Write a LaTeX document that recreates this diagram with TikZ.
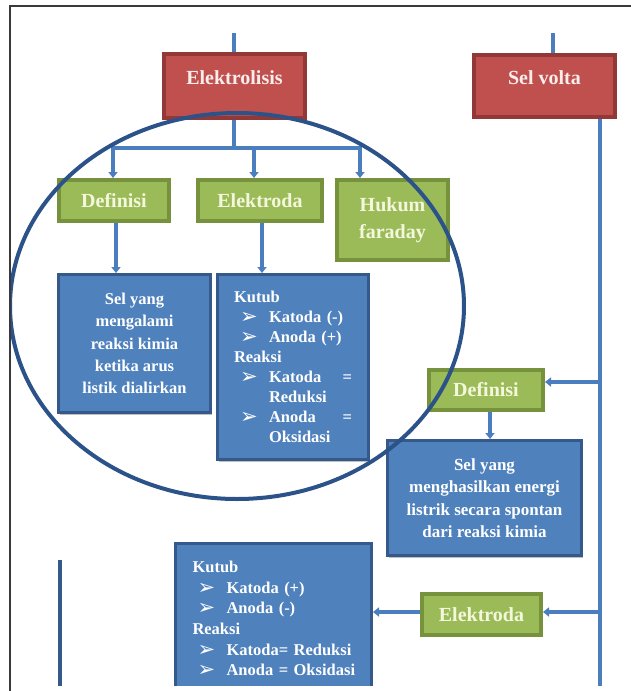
\documentclass[tikz,border=0pt]{standalone}
\usepackage{fontspec}
\setmainfont{Liberation Serif}
\newfontfamily\dejavu{DejaVu Sans}
\usetikzlibrary{arrows.meta,shadows}
\definecolor{redfill}{HTML}{C0504D}
\definecolor{redborder}{HTML}{923836}
\definecolor{redtext}{HTML}{FAEDEC}
\definecolor{greenfill}{HTML}{9BBB59}
\definecolor{greenborder}{HTML}{76923C}
\definecolor{greentext}{HTML}{F4F7DC}
\definecolor{bluefill}{HTML}{4F81BD}
\definecolor{blueborder}{HTML}{34598A}
\definecolor{lineblue}{HTML}{4A7EBF}
\definecolor{ellipseblue}{HTML}{2C5389}
\definecolor{framegray}{HTML}{3A3A3A}
\newcommand\bul{{\dejavu\fontsize{21}{16}\selectfont\raisebox{-1pt}{➢}}}
\newcommand\itm[2]{\hspace*{#1}\makebox[29pt][l]{\bul}\mbox{#2}}
\hyphenpenalty=10000
\exhyphenpenalty=10000
\begin{document}
\begin{tikzpicture}[x=1pt,y=-1pt,
  conn/.style={draw=lineblue, line width=3.5pt},
  arr/.style={conn, -{Triangle[length=6pt,width=9pt]}},
  shad/.style={drop shadow={shadow xshift=1.5pt, shadow yshift=-2pt, opacity=0.25, fill=black}},
  redbox/.style={shad, draw=redborder, fill=redfill, line width=4pt, text=redtext,
     font=\fontsize{20}{24}\selectfont\bfseries, inner sep=0pt},
  greenbox/.style={shad, draw=greenborder, fill=greenfill, line width=4pt, text=greentext,
     font=\fontsize{20}{27}\selectfont\bfseries, align=center, inner sep=0pt},
  bluebox/.style={shad, draw=blueborder, fill=bluefill, line width=3pt, text=white, inner sep=0pt},
  framel/.style={draw=framegray, line width=1.3pt}]
\useasboundingbox (0,0) rectangle (631,691);
\fill[white] (0,0) rectangle (631,691);
\draw[framel] (10,691) -- (10,6) -- (631,6);

\begin{scope}
\clip (11,7) rectangle (631,685);
% top red boxes
\coordinate (elektop) at (234,33);
\coordinate (svtop) at (553,33);
\node[redbox, minimum width=141pt, minimum height=64pt, text height=30pt, text depth=34pt] (elek) at (234.5,86) {Elektrolisis};
\node[redbox, minimum width=141pt, minimum height=62pt, text height=29pt, text depth=33pt] (sv) at (544.5,86) {Sel volta};
\draw[conn] (elektop) -- (elektop |- elek.north);
\draw[conn] (svtop) -- (svtop |- sv.north);

% green boxes left
\node[greenbox, minimum width=110pt, minimum height=41pt] (def1) at (114,200.5) {Definisi};
\node[greenbox, minimum width=124pt, minimum height=41pt] (ele1) at (260,200.5) {Elektroda};
\node[greenbox, minimum width=111pt, minimum height=80pt] (huk) at (392.5,220) {Hukum\\faraday};

\coordinate (jun) at (234,148);
\draw[conn] (elek.south -| jun) -- (jun);
\draw[arr] (jun) -| ([xshift=-1pt]def1.north);
\draw[arr] (jun) -| ([xshift=-6pt]ele1.north);
\draw[arr] (jun) -| ([xshift=-32.5pt]huk.north);

% blue boxes left
\node[bluebox, minimum width=152pt, minimum height=138pt, align=center,
  font=\fontsize{16.5}{22.3}\selectfont\bfseries] (d1box) at (134.5,343.5)
  {Sel yang\\mengalami\\reaksi kimia\\ketika arus\\listik dialirkan};
\node[bluebox, minimum width=151pt, minimum height=185pt, text width=118pt, align=left,
  font=\fontsize{16.5}{20.1}\selectfont\bfseries] (k1box) at (293,367)
  {Kutub\\\itm{6pt}{Katoda (-)}\\\itm{6pt}{Anoda (+)}\\Reaksi\\\itm{6pt}{\makebox[83pt][s]{Katoda\hfill=}}\\\hspace*{35pt}Reduksi\\\itm{6pt}{\makebox[83pt][s]{Anoda\hfill=}}\\\hspace*{35pt}Oksidasi};
\draw[arr] ([xshift=2pt]def1.south) -- ([xshift=2pt]def1.south |- d1box.north);
\draw[arr] ([xshift=2pt]ele1.south) -- ([xshift=2pt]ele1.south |- k1box.north);

% right column
\coordinate (vbot) at (600,691);
\draw[conn] (vbot |- sv.south) -- (vbot);
\node[greenbox, minimum width=114pt, minimum height=40pt] (def2) at (486,390) {Definisi};
\node[bluebox, minimum width=194pt, minimum height=115pt, align=center,
  font=\fontsize{17}{22.5}\selectfont\bfseries] (sel) at (484.5,498)
  {Sel yang\\menghasilkan energi\\listrik secara spontan\\dari reaksi kimia};
\coordinate (p1) at (600,382);
\draw[arr] (p1) -- (p1 -| def2.east);
\draw[arr] ([xshift=4pt]def2.south) -- ([xshift=4pt]def2.south |- sel.north);

\node[greenbox, minimum width=119pt, minimum height=41pt] (ele2) at (481.5,614.5) {Elektroda};
\node[bluebox, minimum width=196pt, minimum height=152pt, text width=162pt, align=left,
  font=\fontsize{16.5}{20.6}\selectfont\bfseries] (k2box) at (273.5,619)
  {Kutub\\\itm{5pt}{Katoda (+)}\\\itm{5pt}{Anoda (-)}\\Reaksi\\\itm{5pt}{Katoda= Reduksi}\\\itm{5pt}{Anoda = Oksidasi}};
\coordinate (p2) at (600,612);
\draw[arr] (p2) -- (p2 -| ele2.east);
\draw[arr] (ele2.west |- p2) -- (p2 -| k2box.east);

% left vertical line
\coordinate (l1) at (60,560);
\coordinate (l2) at (60,691);
\draw[conn, line width=4.5pt, draw=blueborder] (l1) -- (l2);

% ellipse
\draw[ellipseblue, line width=4pt] (237,306) ellipse [x radius=227pt, y radius=193pt];
\end{scope}
\end{tikzpicture}
\end{document}
